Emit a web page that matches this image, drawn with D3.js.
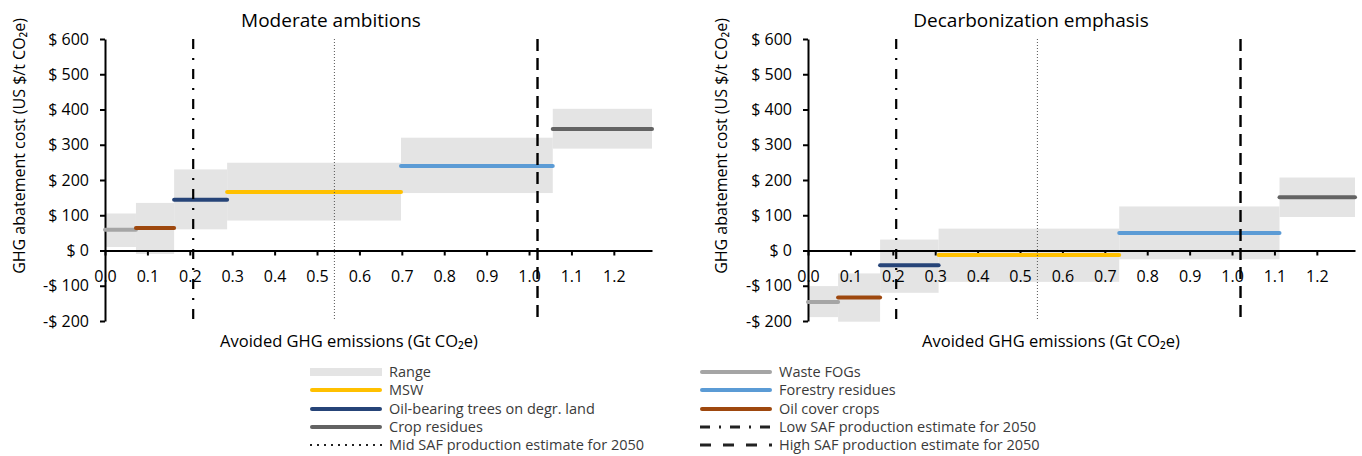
<!DOCTYPE html>
<html>
<head>
<meta charset="utf-8">
<script src="https://cdn.jsdelivr.net/npm/d3@7"></script>
<style>
  body { margin: 0; background: #fff; }
  svg { display: block; font-family: "Open Sans", sans-serif; }
</style>
</head>
<body>
<svg id="chart" width="1362" height="456"></svg>
<script>
// ---------- DATA ----------
const pathways = ["Waste FOGs", "Oil cover crops", "Oil-bearing trees on degr. land", "MSW", "Forestry residues", "Crop residues"];
const pathwayColors = ["#A5A5A5", "#9E480E", "#264478", "#FFC000", "#5B9BD5", "#636363"];

// Moderate ambitions (cumulative avoided emissions, Gt CO2e; cost US$/t CO2e)
const modStart = [0.000, 0.073, 0.163, 0.288, 0.698, 1.056];
const modEnd   = [0.073, 0.163, 0.288, 0.698, 1.056, 1.290];
const modCost  = [59, 64, 144, 166, 240, 345];
const modLow   = [10, -10, 60, 85, 163, 289];
const modHigh  = [105, 135, 230, 249, 320, 402];

// Decarbonization emphasis
const decStart = [0.000, 0.071, 0.170, 0.308, 0.734, 1.112];
const decEnd   = [0.071, 0.170, 0.308, 0.734, 1.112, 1.290];
const decCost  = [-146, -133, -42, -13, 50, 151];
const decLow   = [-189, -202, -120, -89, -25, 95];
const decHigh  = [-101, -65, 31, 62, 125, 207];

// SAF production estimates for 2050 (Gt CO2e)
const safLow = 0.208, safMid = 0.541, safHigh = 1.02;

const xTicks = [0, 0.1, 0.2, 0.3, 0.4, 0.5, 0.6, 0.7, 0.8, 0.9, 1.0, 1.1, 1.2];
const yTicks = [-200, -100, 0, 100, 200, 300, 400, 500, 600];
const xDomain = [0, 1.29];
const yDomain = [-200, 600];

const titles = ["Moderate ambitions", "Decarbonization emphasis"];
const xTitle = "Avoided GHG emissions (Gt CO₂e)";
const yTitle = "GHG abatement cost (US $/t CO₂e)";

const legendItems = [
  { label: "Range", type: "range" },
  { label: "Waste FOGs", type: "line", color: "#A5A5A5" },
  { label: "MSW", type: "line", color: "#FFC000" },
  { label: "Forestry residues", type: "line", color: "#5B9BD5" },
  { label: "Oil-bearing trees on degr. land", type: "line", color: "#264478" },
  { label: "Oil cover crops", type: "line", color: "#9E480E" },
  { label: "Crop residues", type: "line", color: "#636363" },
  { label: "Low SAF production estimate for 2050", type: "dashdot" },
  { label: "Mid SAF production estimate for 2050", type: "dot" },
  { label: "High SAF production estimate for 2050", type: "dash" }
];

// ---------- DRAW ----------
const svg = d3.select("#chart");
const rangeFill = "#E4E4E4";

const panels = [
  { title: titles[0], start: modStart, end: modEnd, cost: modCost, low: modLow, high: modHigh,
    x0: 105, x1: 652, titleX: 331, xTitleX: 349, yTitleX: 25 },
  { title: titles[1], start: decStart, end: decEnd, cost: decCost, low: decLow, high: decHigh,
    x0: 808, x1: 1355, titleX: 1031, xTitleX: 1051, yTitleX: 727 }
];

const yTop = 39, yBot = 321;

panels.forEach(p => {
  const g = svg.append("g");
  const x = d3.scaleLinear().domain(xDomain).range([p.x0, p.x1]);
  const y = d3.scaleLinear().domain(yDomain).range([yBot, yTop]);

  const rows = pathways.map((name, i) => ({
    name, color: pathwayColors[i], s: p.start[i], e: p.end[i],
    c: p.cost[i], lo: p.low[i], hi: p.high[i]
  }));

  // range boxes
  g.selectAll("rect.range").data(rows).join("rect")
    .attr("class", "range")
    .attr("x", d => x(d.s))
    .attr("width", d => x(d.e) - x(d.s))
    .attr("y", d => y(d.hi))
    .attr("height", d => y(d.lo) - y(d.hi))
    .attr("fill", rangeFill);

  // axes
  const yAxis = d3.axisLeft(y).tickValues(yTicks).tickSize(5).tickSizeOuter(0).tickPadding(11)
    .tickFormat(d => d < 0 ? "-$ " + (-d) : "$ " + d);
  const ya = g.append("g").attr("transform", `translate(${p.x0},0)`).call(yAxis);
  ya.select(".domain").attr("stroke", "#000").attr("stroke-width", 2);
  ya.selectAll(".tick line").attr("stroke", "#000").attr("stroke-width", 2);
  ya.selectAll(".tick text").attr("font-size", 16).attr("fill", "#000").attr("font-family", "'Open Sans', sans-serif");

  const xAxis = d3.axisBottom(x).tickValues(xTicks).tickSize(5).tickSizeOuter(0).tickPadding(15)
    .tickFormat(d3.format(".1f"));
  const xa = g.append("g").attr("transform", `translate(0,${y(0)})`).call(xAxis);
  xa.select(".domain").attr("stroke", "#000").attr("stroke-width", 2);
  xa.selectAll(".tick line").attr("stroke", "#000").attr("stroke-width", 2);
  xa.selectAll(".tick text").attr("font-size", 16).attr("fill", "#000").attr("font-family", "'Open Sans', sans-serif");

  // cost lines
  g.selectAll("line.cost").data(rows).join("line")
    .attr("class", "cost")
    .attr("x1", d => x(d.s)).attr("x2", d => x(d.e))
    .attr("y1", d => y(d.c)).attr("y2", d => y(d.c))
    .attr("stroke", d => d.color).attr("stroke-width", 4).attr("stroke-linecap", "round");

  // SAF estimate lines
  const saf = [
    { v: safLow, dash: "10,9,2,9", w: 2.2, color: "#000" },
    { v: safMid, dash: "1,2", w: 1, color: "#555" },
    { v: safHigh, dash: "12,7", w: 2.4, color: "#000" }
  ];
  g.selectAll("line.saf").data(saf).join("line")
    .attr("class", "saf")
    .attr("x1", d => x(d.v)).attr("x2", d => x(d.v))
    .attr("y1", yTop).attr("y2", yBot)
    .attr("stroke", d => d.color).attr("stroke-width", d => d.w)
    .attr("stroke-dasharray", d => d.dash);

  // titles
  g.append("text").attr("x", p.titleX).attr("y", 27).attr("text-anchor", "middle")
    .attr("font-size", 19).attr("fill", "#000").text(p.title);
  g.append("text").attr("x", p.xTitleX).attr("y", 347).attr("text-anchor", "middle")
    .attr("font-size", 16.5).attr("fill", "#000").text(xTitle);
  g.append("text").attr("transform", `translate(${p.yTitleX},146) rotate(-90)`)
    .attr("text-anchor", "middle").attr("font-size", 16).attr("fill", "#000").text(yTitle);
});

// ---------- LEGEND ----------
const lg = svg.append("g");
const colX = [310, 700];
const rowY = [372, 390, 409, 427, 445];
legendItems.forEach((it, i) => {
  const cx = colX[i % 2], cy = rowY[Math.floor(i / 2)];
  const gi = lg.append("g");
  if (it.type === "range") {
    gi.append("rect").attr("x", cx).attr("y", cy - 4).attr("width", 72).attr("height", 8).attr("fill", rangeFill);
  } else if (it.type === "line") {
    gi.append("line").attr("x1", cx + 2).attr("x2", cx + 70).attr("y1", cy).attr("y2", cy)
      .attr("stroke", it.color).attr("stroke-width", 4).attr("stroke-linecap", "round");
  } else {
    const dash = it.type === "dashdot" ? "10,9,2,9" : it.type === "dot" ? "2,5" : "11,12";
    const w = it.type === "dot" ? 2 : 3;
    gi.append("line").attr("x1", cx).attr("x2", cx + 72).attr("y1", cy).attr("y2", cy)
      .attr("stroke", "#222").attr("stroke-width", w).attr("stroke-dasharray", dash);
  }
  gi.append("text").attr("x", cx + 79).attr("y", cy).attr("dy", "0.35em")
    .attr("font-size", 14.5).attr("fill", "#3a3a3a").text(it.label);
});
</script>
</body>
</html>
